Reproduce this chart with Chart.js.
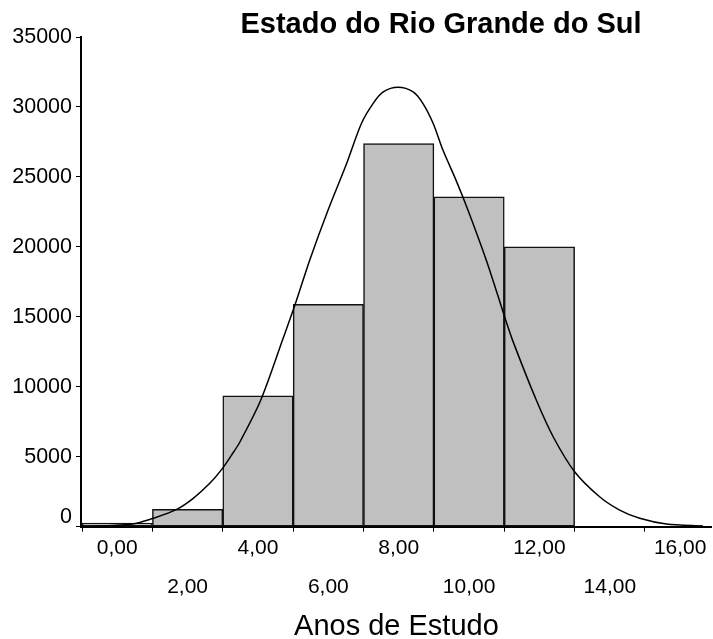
<!DOCTYPE html>
<html>
<head>
<meta charset="utf-8">
<script src="https://cdn.jsdelivr.net/npm/chart.js@4/dist/chart.umd.min.js"></script>
<style>
  html, body { margin: 0; padding: 0; background: #fff; }
  canvas { display: block; }
</style>
</head>
<body>
<canvas id="c" width="713" height="639"></canvas>
<script>
// ---- data ----
const chartTitle = 'Estado do Rio Grande do Sul';
const xAxisTitle = 'Anos de Estudo';

// histogram bins (centres, width 2) and counts
const binCenters = [0, 2, 4, 6, 8, 10, 12];
const binCounts  = [250, 1240, 9360, 15890, 27390, 23570, 20000];

// fitted normal curve
const curveX = [-0.68, 0.08, 0.55, 1.02, 1.69, 2.16, 2.63, 2.97, 3.25, 3.49, 4.08, 4.72, 5.05, 5.47, 5.99,
                6.52, 6.94, 7.27, 7.56, 7.98, 8.41, 8.69, 8.98, 9.26, 9.64, 9.97, 10.49, 10.82, 11.01, 11.24,
                11.91, 12.39, 13.0, 13.71, 14.28, 14.85, 15.61, 16.65];
const curveY = [10, 120, 250, 600, 1240, 2030, 3100, 4100, 5120, 6070, 9050, 13500, 15840, 19050, 22620,
                25960, 28820, 30240, 31070, 31400, 31070, 30240, 28820, 26900, 24700, 22620, 19050, 16500, 15000, 13300,
                9050, 6430, 3930, 2140, 1190, 600, 190, 50];

// axis ticks
const xTickValues = [0, 2, 4, 6, 8, 10, 12, 14, 16];
const xTickLabels = ['0,00', '2,00', '4,00', '6,00', '8,00', '10,00', '12,00', '14,00', '16,00'];
const yTickValues = [0, 5000, 10000, 15000, 20000, 25000, 30000, 35000];
const yTickLabels = ['0', '5000', '10000', '15000', '20000', '25000', '30000', '35000'];

const FONT = '"Liberation Sans", Arial, sans-serif';

const titlePlugin = {
  id: 'fixedTitle',
  afterDraw(chart) {
    const ctx = chart.ctx;
    ctx.save();
    ctx.font = 'bold 29px ' + FONT;
    ctx.fillStyle = '#000';
    ctx.textAlign = 'center';
    ctx.textBaseline = 'middle';
    ctx.fillText(chartTitle, 441, 25);
    ctx.restore();
  }
};

const bgPlugin = {
  id: 'bg',
  beforeDraw(chart) {
    const ctx = chart.ctx;
    ctx.save();
    ctx.fillStyle = '#fff';
    ctx.fillRect(0, 0, chart.width, chart.height);
    ctx.restore();
  }
};

new Chart(document.getElementById('c'), {
  type: 'bar',
  data: {
    datasets: [
      {
        type: 'line',
        data: curveX.map((x, i) => ({ x: x, y: curveY[i] })),
        borderColor: '#000',
        borderWidth: 1.5,
        pointRadius: 0,
        fill: false,
        tension: 0.3,
        order: 0
      },
      {
        type: 'bar',
        data: binCenters.map((x, i) => ({ x: x, y: binCounts[i] })),
        backgroundColor: '#c0c0c0',
        borderColor: '#111',
        borderWidth: 1.5,
        borderSkipped: false,
        barPercentage: 1,
        categoryPercentage: 1,
        order: 1
      }
    ]
  },
  options: {
    responsive: false,
    devicePixelRatio: 1,
    animation: false,
    layout: { padding: { top: 37, right: 1, left: 0, bottom: 0 } },
    plugins: {
      legend: { display: false },
      tooltip: { enabled: false },
      title: { display: false }
    },
    scales: {
      x: {
        type: 'linear',
        offset: false,
        min: -1.03,
        max: 16.9,
        afterBuildTicks(scale) { scale.ticks = xTickValues.map(v => ({ value: v })); },
        afterFit(scale) { scale.height = 112.3; },
        grid: {
          drawOnChartArea: false,
          drawTicks: true,
          tickLength: 5,
          color: '#000',
          lineWidth: 1
        },
        border: { display: true, color: '#000', width: 2 },
        ticks: {
          padding: 6.5,
          color: '#000',
          maxRotation: 0,
          autoSkip: false,
          font: { family: FONT, size: 21, lineHeight: 19.5 / 21 },
          callback(value) {
            const i = xTickValues.indexOf(value);
            const lbl = xTickLabels[i];
            return (i % 2 === 0) ? [lbl, '', ''] : ['', '', lbl];
          }
        },
        title: {
          display: true,
          text: xAxisTitle,
          color: '#000',
          font: { family: FONT, size: 29, lineHeight: 0.8 },
          padding: { top: 12, bottom: 0.4 }
        }
      },
      y: {
        type: 'linear',
        min: 0,
        max: 35000,
        afterBuildTicks(scale) { scale.ticks = yTickValues.map(v => ({ value: v })); },
        afterFit(scale) { scale.width = 81; },
        grid: {
          drawOnChartArea: false,
          drawTicks: true,
          tickLength: 5,
          color: '#000',
          lineWidth: 1
        },
        border: { display: true, color: '#000', width: 2 },
        ticks: {
          padding: 4,
          color: '#000',
          font: { family: FONT, size: 21.5, lineHeight: 20 / 21.5 },
          callback(value) {
            const i = yTickValues.indexOf(value);
            return i === 0 ? [yTickLabels[i], ''] : yTickLabels[i];
          }
        }
      }
    }
  },
  plugins: [bgPlugin, titlePlugin]
});
</script>
</body>
</html>
